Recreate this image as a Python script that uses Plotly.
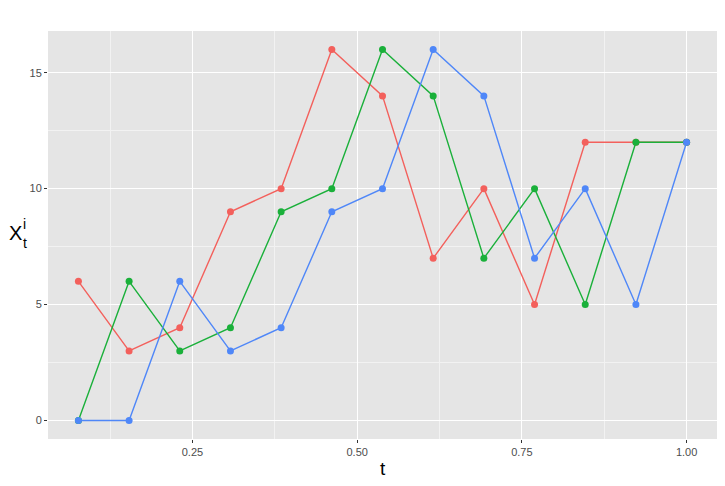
import plotly.graph_objects as go

t_values = [1/13, 2/13, 3/13, 4/13, 5/13, 6/13, 7/13, 8/13, 9/13, 10/13, 11/13, 12/13, 1.0]
series_red = [6, 3, 4, 9, 10, 16, 14, 7, 10, 5, 12, 12, 12]
series_green = [0, 6, 3, 4, 9, 10, 16, 14, 7, 10, 5, 12, 12]
series_blue = [0, 0, 6, 3, 4, 9, 10, 16, 14, 7, 10, 5, 12]
x_ticks = [0.25, 0.50, 0.75, 1.00]
x_tick_labels = ["0.25", "0.50", "0.75", "1.00"]
y_ticks = [0, 5, 10, 15]
y_tick_labels = ["0", "5", "10", "15"]

colors = ["#F3605C", "#1AB03A", "#4F87F8"]
names = ["1", "2", "3"]

fig = go.Figure()
for ys, c, n in zip([series_red, series_green, series_blue], colors, names):
    fig.add_trace(go.Scatter(
        x=t_values, y=ys, mode="lines+markers", name=n,
        line=dict(color=c, width=1.4),
        marker=dict(color=c, size=7),
        showlegend=False,
    ))

font_family = "Liberation Sans, Arial, sans-serif"

fig.update_layout(
    width=717, height=478,
    margin=dict(l=40, r=8, t=23, b=47),
    paper_bgcolor="white",
    plot_bgcolor="#E5E5E5",
    font=dict(family=font_family, color="#4D4D4D"),
    xaxis=dict(
        range=[1/13 - 0.05*12/13, 1 + 0.05*12/13],
        tickvals=x_ticks, ticktext=x_tick_labels,
        showgrid=True, gridcolor="white", gridwidth=1.1,
        minor=dict(dtick=0.125, tick0=0, showgrid=True, gridcolor="#F2F2F2", gridwidth=0.6, ticks=""),
        ticks="outside", ticklen=3, tickwidth=1.1, tickcolor="#333333",
        tickfont=dict(size=11, color="#4D4D4D"),
        zeroline=False, showline=False, automargin=False,
    ),
    yaxis=dict(
        range=[-0.8, 16.8],
        tickvals=y_ticks, ticktext=y_tick_labels,
        showgrid=True, gridcolor="white", gridwidth=1.1,
        minor=dict(dtick=2.5, tick0=0, showgrid=True, gridcolor="#F2F2F2", gridwidth=0.6, ticks=""),
        ticks="outside", ticklen=3, tickwidth=1.1, tickcolor="#333333",
        tickfont=dict(size=11, color="#4D4D4D"),
        zeroline=False, showline=False, automargin=False,
    ),
)

# axis titles as annotations (pixel offsets from the panel edges)
fig.add_annotation(text="t", xref="paper", yref="paper", x=0.5, y=0, yshift=-29,
                   showarrow=False, xanchor="center", yanchor="middle",
                   font=dict(size=19, color="black", family=font_family))
fig.add_annotation(text="X", xref="paper", yref="paper", x=0, y=0.5, xshift=-41, yshift=2,
                   showarrow=False, xanchor="left", yanchor="middle",
                   font=dict(size=20, color="black", family=font_family))
fig.add_annotation(text="t", xref="paper", yref="paper", x=0, y=0.5, xshift=-27, yshift=-8,
                   showarrow=False, xanchor="left", yanchor="middle",
                   font=dict(size=14, color="black", family=font_family))
fig.add_annotation(text="i", xref="paper", yref="paper", x=0, y=0.5, xshift=-27, yshift=11,
                   showarrow=False, xanchor="left", yanchor="middle",
                   font=dict(size=14, color="black", family=font_family))

fig.write_html("out.html")
